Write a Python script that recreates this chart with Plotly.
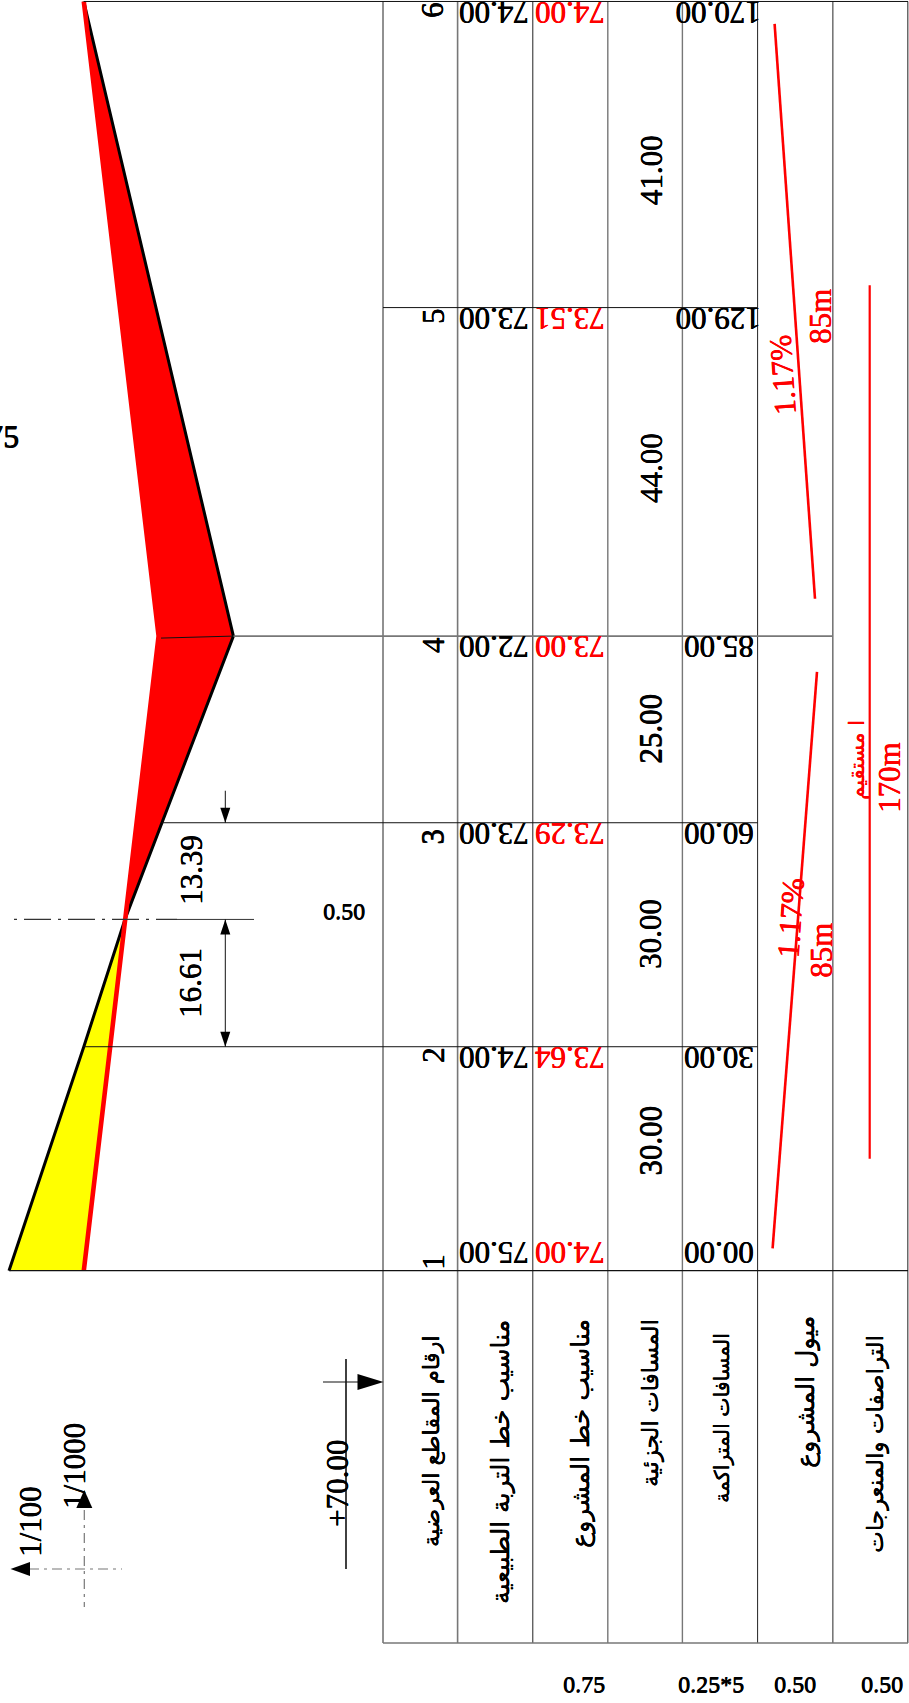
import plotly.graph_objects as go

# ---------- data ----------
section_numbers = ["1", "2", "3", "4", "5", "6"]
stations = [0, 30, 60, 85, 129, 170]
ground_levels = [75, 74, 73, 72, 73, 74]
project_levels = [74, 73.64, 73.29, 73, 73.51, 74]
ground_labels = ["75.00", "74.00", "73.00", "72.00", "73.00", "74.00"]
project_labels = ["74.00", "73.64", "73.29", "73.00", "73.51", "74.00"]
cumulative_labels = ["00.00", "30.00", "60.00", "85.00", "129.00", "170.00"]
partial_labels = ["30.00", "30.00", "25.00", "44.00", "41.00"]
partial_label_stations = [17.4, 45.1, 72.6, 107.5, 147.4]
cut_station = 47.05
cut_level = 73.45
slope_stations_low = [3, 80.2]
slope_stations_high = [90, 167]
alignment_stations = [15, 132]
row_titles = ["ارقام المقاطع العرضية", "مناسيب خط التربة الطبيعية", "مناسيب خط المشروع",
              "المسافات الجزئية", "المسافات المتراكمة", "ميول المشروع", "التراصفات والمنعرجات"]
row_title_sizes = [22.5, 25, 25, 23, 20.5, 25, 23]

W, H = 909, 1703
Y0, PPM = 1270.7, 7.466           # page y of station 0, px per metre
X75, PPL = 9.0, 74.8              # page x of level 75, px per level metre
SERIF = "Liberation Serif"
ARABIC = "DejaVu Sans"
GREY = "#777777"

def sy(d):
    return Y0 - d * PPM
def hx(px):
    return px / W
def hy(py):
    return 1 - py / H
def lx(z):
    return X75 + (75 - z) * PPL

fig = go.Figure()

# fills
fig.add_trace(go.Scatter(
    x=[ground_levels[0], ground_levels[1], cut_level, project_levels[1], project_levels[0]],
    y=[stations[0], stations[1], cut_station, stations[1], stations[0]],
    mode="lines", fill="toself", fillcolor="#ffff00", line=dict(width=0), hoverinfo="skip"))
fig.add_trace(go.Scatter(
    x=[cut_level, ground_levels[3], ground_levels[5], project_levels[3]],
    y=[cut_station, stations[3], stations[5], stations[3]],
    mode="lines", fill="toself", fillcolor="#ff0000", line=dict(width=0), hoverinfo="skip"))
# profile lines
fig.add_trace(go.Scatter(x=[ground_levels[0], ground_levels[1], cut_level, ground_levels[3], ground_levels[5]],
                         y=[stations[0], stations[1], cut_station, stations[3], stations[5]],
                         mode="lines", line=dict(color="#000000", width=3), hoverinfo="skip"))
fig.add_trace(go.Scatter(x=[project_levels[i] for i in (0, 3, 5)],
                         y=[stations[i] for i in (0, 3, 5)],
                         mode="lines", line=dict(color="#ff0000", width=4.6), hoverinfo="skip"))

shapes = []
def line(x0, y0, x1, y1, color="#000000", width=1, dash=None, layer="above"):
    d = dict(color=color, width=width)
    if dash:
        d["dash"] = dash
    shapes.append(dict(type="line", xref="paper", yref="paper", x0=hx(x0), y0=hy(y0), x1=hx(x1), y1=hy(y1),
                       line=d, layer=layer))
def tri(points, color="#000000"):
    p = "M " + " L ".join(f"{hx(a):.5f} {hy(b):.5f}" for a, b in points) + " Z"
    shapes.append(dict(type="path", xref="paper", yref="paper", path=p, fillcolor=color, line=dict(width=0), layer="above"))

# table frame
col_x = [383, 457.6, 532.8, 607.8, 682.4, 757.6, 832.8, 907.8]
col_style = [("#222222", 1), (GREY, 1.6), ("#222222", 1), (GREY, 1.4), (GREY, 1.4), ("#222222", 1), (GREY, 1.6), ("#444444", 1.2)]
TABLE_BOTTOM = 1643
for cx, (c, w) in zip(col_x, col_style):
    line(cx, 1.5, cx, TABLE_BOTTOM, c, w)
line(383, TABLE_BOTTOM, 908, TABLE_BOTTOM, GREY, 1.6)

# section lines
line(lx(ground_levels[0]), sy(stations[0]), 908, sy(stations[0]), "#111111", 1.2)
line(lx(ground_levels[1]), sy(stations[1]), 757.6, sy(stations[1]), "#111111", 1)
line(lx(ground_levels[2]) + 3, sy(stations[2]), 757.6, sy(stations[2]), "#111111", 1)
line(lx(ground_levels[3]), sy(stations[3]), 832.8, sy(stations[3]), GREY, 1.6)
line(161, sy(stations[3]) + 2, lx(ground_levels[3]), sy(stations[3]), "#111111", 1)
line(383, sy(stations[4]), 757.6, sy(stations[4]), "#111111", 1)
line(lx(ground_levels[5]), sy(stations[5]), 908, sy(stations[5]), "#111111", 1)

# slope and alignment marks (red)
RED = "#ff0000"
shapes.append(dict(type="line", xref="paper", yref="y", x0=hx(772.6), x1=hx(817),
                   y0=slope_stations_low[0], y1=slope_stations_low[1], line=dict(color=RED, width=2.6), layer="above"))
shapes.append(dict(type="line", xref="paper", yref="y", x0=hx(815), x1=hx(774.6),
                   y0=slope_stations_high[0], y1=slope_stations_high[1], line=dict(color=RED, width=2.6), layer="above"))
shapes.append(dict(type="line", xref="paper", yref="y", x0=hx(869.7), x1=hx(869.7),
                   y0=alignment_stations[0], y1=alignment_stations[1], line=dict(color=RED, width=2.2), layer="above"))

# zero cut dimension
cy = sy(cut_station)
line(14, cy, 177, cy, "#333333", 1.2, "3px,7px,27px,7px")
line(177, cy, 254, cy, "#333333", 1)
line(225.3, cy, 225.3, sy(stations[1]), "#111111", 1)
tri([(225.3, cy), (220.3, cy + 15), (230.3, cy + 15)])
tri([(225.3, sy(stations[1])), (220.3, sy(stations[1]) - 15), (230.3, sy(stations[1]) - 15)])
line(225.3, sy(stations[2]) - 32, 225.3, sy(stations[2]), "#111111", 1)
tri([(225.3, sy(stations[2])), (220.3, sy(stations[2]) - 15), (230.3, sy(stations[2]) - 15)])

# datum mark
line(346, 1359, 346, 1569, "#111111", 1.6)
line(323, 1382, 358, 1382, "#111111", 1.2)
tri([(383.5, 1382), (357.5, 1374), (357.5, 1390)])

# scale cross
line(29, 1569, 122, 1569, GREY, 1.2, "10px,5px,3px,5px")
line(84.3, 1510, 84.3, 1607, GREY, 1.2, "10px,5px,3px,5px")
tri([(10.5, 1569), (30, 1562), (30, 1576)])
tri([(84.3, 1490), (76.3, 1508), (92.3, 1508)])

fig.update_layout(shapes=shapes)

def note(text, px, py=None, angle=-90, size=31, color="#000000", family=SERIF,
         station=None, yshift=0, xanchor="center", heavy=0.45):
    font = dict(family=family, size=size, color=color)
    if heavy:
        font["shadow"] = f"{heavy}px 0 0 {color}, 0 {heavy}px 0 {color}"
    kw = dict(text=text, showarrow=False, xref="paper", x=hx(px), textangle=angle, font=font,
              xanchor=xanchor, yanchor="middle", borderpad=0)
    if station is not None:
        kw.update(yref="y", y=station, yshift=yshift)
    else:
        kw.update(yref="paper", y=hy(py))
    fig.add_annotation(**kw)

# table values
number_shift = [8.7, -8.3, -14, -9, -8.5, -8.5]
for s, n, g, p, c, sh in zip(stations, section_numbers, ground_labels, project_labels, cumulative_labels, number_shift):
    off = 17.5 if s == 0 else -11
    note(n, 433, station=s, yshift=sh)
    note(g, 494, station=s, yshift=off, angle=180)
    note(p, 570, station=s, yshift=off, angle=180, color=RED)
    note(c, 719, station=s, yshift=off, angle=180)
for st, t in zip(partial_label_stations, partial_labels):
    note(t, 651, station=st)

# red slope texts
note("1.17%", 783, 375, angle=-94, color=RED)
note("1.17%", 790, 918, angle=-86, color=RED)
note("85m", 821, 317, color=RED)
note("85m", 821, 951, color=RED)
note("170m", 889, 778, color=RED)
note("ا مستقيم", 857, 760, color=RED, family=ARABIC, size=21)

# row titles
title_x = [431, 500, 581, 650, 722, 806, 875]
title_y = [1441, 1462, 1434, 1403, 1418, 1392, 1444]
for t, a, b, sz in zip(row_titles, title_x, title_y, row_title_sizes):
    note(t, a, b, family=ARABIC, size=sz, heavy=0.3)

# dimensions and thickness labels
note("13.39", 191, 870)
note("16.61", 190, 983)
note("0.50", 344, 911, angle=0, size=24, heavy=0.6)
note("0.75", 20, 436, angle=0, size=32, xanchor="right", heavy=0.6)
note("+70.00", 337, 1484)
note("1/100", 30, 1521)
note("1/1000", 74, 1466)
for t, a in zip(["0.75", "0.25*5", "0.50", "0.50"], [584, 711, 795, 882]):
    note(t, a, 1684, angle=0, size=24, heavy=0.6)

fig.update_layout(
    width=W, height=H, margin=dict(l=0, r=0, t=0, b=0), showlegend=False,
    paper_bgcolor="#ffffff", plot_bgcolor="#ffffff",
    xaxis=dict(visible=False, range=[75 + X75 / PPL, 75 - (W - X75) / PPL]),
    yaxis=dict(visible=False, range=[(Y0 - H) / PPM, Y0 / PPM]),
)
fig.write_html("out.html", config=dict(displayModeBar=False),
               post_script="document.body.style.margin='0';document.documentElement.style.overflow='hidden';")
